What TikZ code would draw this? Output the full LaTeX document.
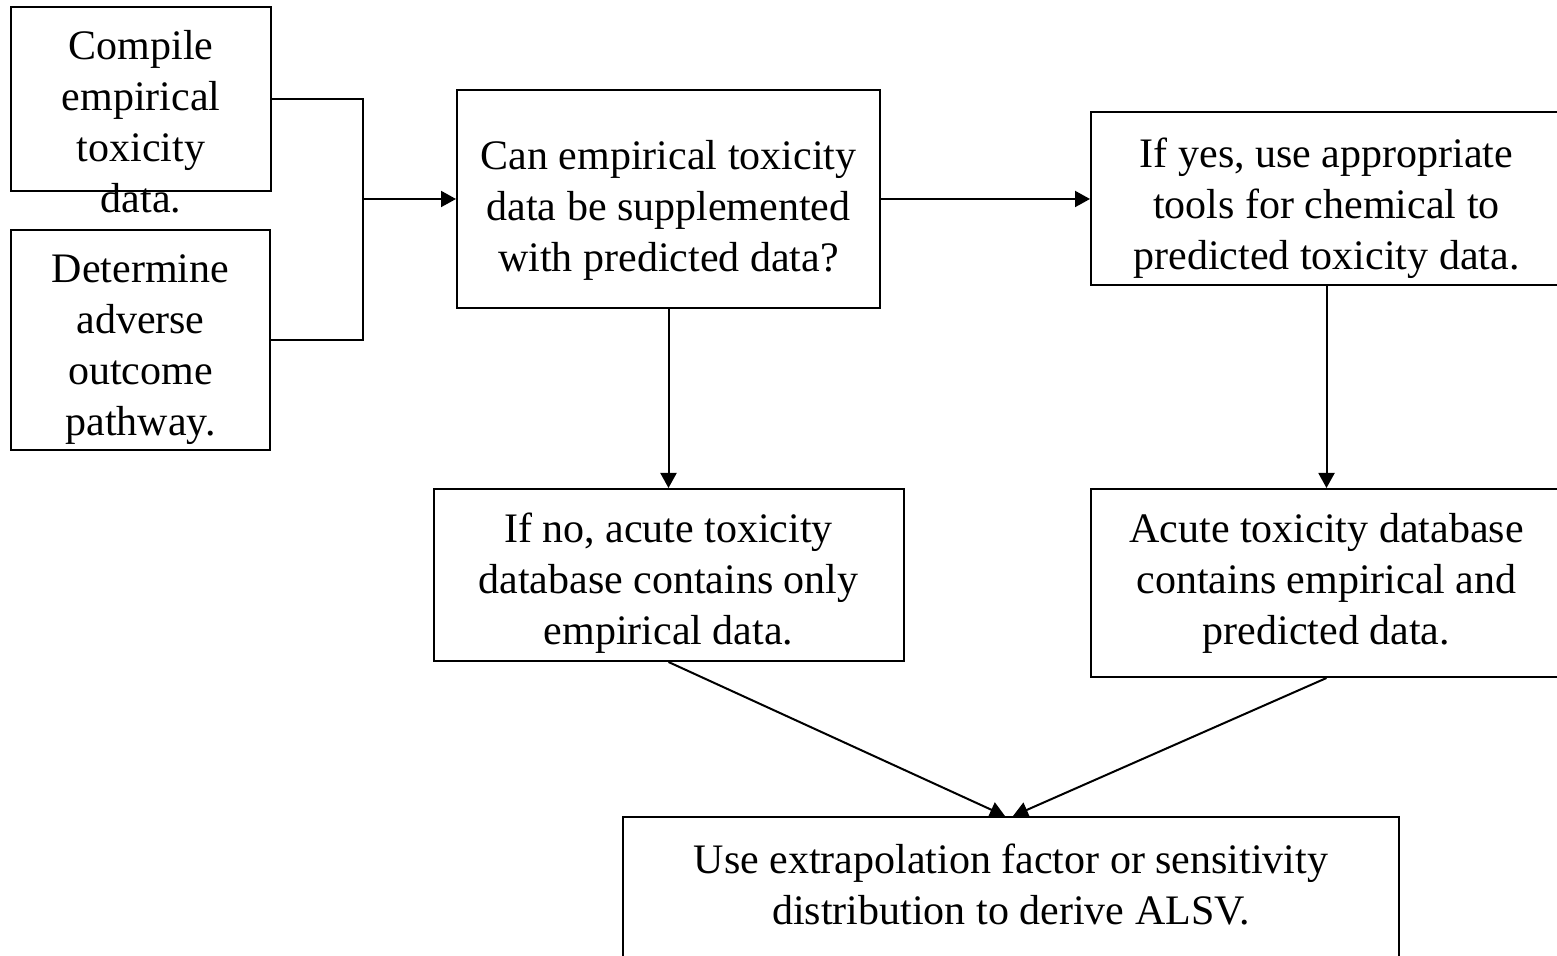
\documentclass[tikz,border=0pt]{standalone}
\usepackage{fontspec}
\setmainfont{Liberation Serif}
\usepackage{tikz}
\usetikzlibrary{arrows.meta,positioning}

\begin{document}
\begin{tikzpicture}[
  x=0.5pt, y=-0.5pt,
  flowbox/.style={
    draw,
    line width=1pt,
    inner sep=0pt
  },
  boxtext/.style={
    align=center,
    inner sep=0pt,
    font=\fontsize{21}{25.5}\selectfont
  },
  arrow/.style={-{Triangle[length=7.5pt,width=8pt]},line width=1pt}
]
  \useasboundingbox (0,0) rectangle (1557,956);
  \clip (0,0) rectangle (1557,956);
  % boxes
  \node[flowbox,minimum width=130pt,minimum height=92pt] (compile) at (141,99) {};
  \node[flowbox,minimum width=129.5pt,minimum height=110pt] (determine) at (140.5,340) {};
  \node[flowbox,minimum width=211.5pt,minimum height=109pt] (question) at (668.5,199) {};
  \node[flowbox,minimum width=235.5pt,minimum height=86.5pt] (yes) at (1326.5,199) {};
  \node[flowbox,minimum width=235pt,minimum height=86pt] (no) at (668.5,575) {};
  \node[flowbox,minimum width=235.5pt,minimum height=94pt] (both) at (1326.5,583) {};
  \node[flowbox,minimum width=388pt,minimum height=72pt] (result) at (1011,889) {};
  % texts
  \node[boxtext] (compiletext) at ([yshift=-11.5pt]compile.center) {Compile\\empirical\\toxicity\\data.};
  \node[boxtext] (determinetext) at ([yshift=-5pt]determine.center) {Determine\\adverse\\outcome\\pathway.};
  \node[boxtext] (questiontext) at ([yshift=-5.5pt]question.center) {Can empirical toxicity\\data be supplemented\\with predicted data?};
  \node[boxtext] (yestext) at ([yshift=-4.5pt]yes.center) {If yes, use appropriate\\tools for chemical to\\predicted toxicity data.};
  \node[boxtext] (notext) at ([yshift=-4pt]no.center) {If no, acute toxicity\\database contains only\\empirical data.};
  \node[boxtext] (bothtext) at (both.center) {Acute toxicity database\\contains empirical and\\predicted data.};
  \node[boxtext] (resulttext) at ([yshift=2pt]result.center) {Use extrapolation factor or sensitivity\\distribution to derive ALSV.};
  % connectors
  \coordinate (merge) at (363,199);
  \draw[line width=1pt] (compile.east) -| (merge);
  \draw[line width=1pt] (determine.east) -| (merge);
  \draw[arrow] (merge) -- (question.west);
  \draw[arrow] (question.east) -- (yes.west);
  \draw[arrow] (question.south) -- (no.north);
  \draw[arrow] (yes.south) -- (both.north);
  \draw[arrow] (no.south) -- ([xshift=-3pt]result.north);
  \draw[arrow] (both.south) -- ([xshift=1pt]result.north);
\end{tikzpicture}
\end{document}
